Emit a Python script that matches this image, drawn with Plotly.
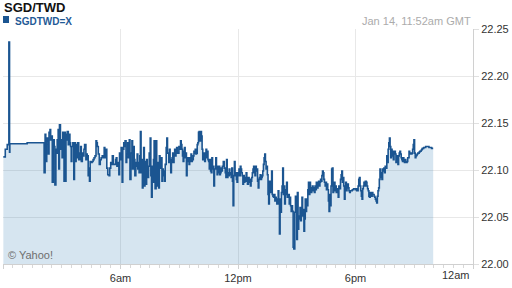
import plotly.graph_objects as go

# ---- data: minutes after midnight (GMT) and SGD/TWD rate ----
t_a = [1, 7, 13, 17, 18, 20, 21, 73, 74, 124]
r_a = [22.114, 22.122, 22.127, 22.127, 22.236, 22.119, 22.128, 22.128, 22.129, 22.129]

t_b = [126, 129, 131, 134, 137, 139, 141, 144, 146, 149, 151, 154, 157, 159, 162, 164, 166, 169, 171, 173,
       176, 178, 181, 183, 185, 187, 189, 191, 193, 195, 197, 200, 202, 205, 207, 209, 211, 214, 217, 219,
       222, 224, 227, 229, 232, 235, 238, 240, 243, 245, 248, 250, 254, 256, 258, 261, 263, 265, 267, 270,
       273, 276, 279, 282, 285, 287, 289, 292, 295, 298, 301, 304, 307, 310, 312, 315, 318, 321, 325, 327,
       330, 333, 335, 338, 341]
r_b = [22.097, 22.138, 22.109, 22.134, 22.131, 22.117, 22.140, 22.143, 22.132, 22.136, 22.087, 22.132, 22.125, 22.084, 22.122, 22.118, 22.132, 22.143, 22.101, 22.148,
       22.122, 22.132, 22.113, 22.140, 22.131, 22.088, 22.140, 22.088, 22.138, 22.132, 22.141, 22.127, 22.138, 22.129, 22.125, 22.109, 22.125, 22.129, 22.090, 22.129,
       22.109, 22.127, 22.113, 22.129, 22.111, 22.118, 22.125, 22.109, 22.118, 22.115, 22.122, 22.127, 22.111, 22.117, 22.115, 22.094, 22.102, 22.088, 22.109, 22.108,
       22.109, 22.111, 22.113, 22.115, 22.131, 22.129, 22.125, 22.117, 22.106, 22.111, 22.113, 22.115, 22.113, 22.124, 22.113, 22.122, 22.102, 22.095, 22.094, 22.102,
       22.108, 22.106, 22.115, 22.106, 22.106]

t_c = [345, 347, 349, 352, 355, 357, 360, 362, 365, 367, 370, 372, 374, 377, 379, 382, 384, 387, 389, 392,
       395, 397, 400, 402, 404, 407, 409, 411, 413, 415, 417, 419, 421, 423, 425, 427, 429, 431, 433, 435,
       438, 440, 442, 444, 446, 448, 451, 453, 455, 457, 459, 461, 463, 466, 469, 471, 473, 475, 477, 479,
       481, 483, 485, 487, 489, 491, 493, 495, 497, 500, 502, 504, 506, 508, 510, 512, 514, 516, 518, 520,
       522, 524, 526, 528, 530, 532, 534, 537, 539, 541, 544, 546, 548, 550, 552, 554, 556, 558, 560, 562,
       564, 566, 568, 570, 572, 574, 576, 578, 580, 583, 585, 587, 589, 591, 593, 595, 597, 599, 601, 603,
       605, 608, 610, 612, 614, 616, 618, 620, 622, 624, 626, 628, 630, 632, 634, 636, 638, 640, 642, 644,
       646, 648, 650, 652, 654, 656, 658, 660, 662, 664, 666, 668, 670, 672, 675]
r_c = [22.111, 22.113, 22.104, 22.108, 22.095, 22.118, 22.111, 22.124, 22.087, 22.122, 22.129, 22.125, 22.131, 22.108, 22.117, 22.129, 22.113, 22.132, 22.090, 22.118,
       22.131, 22.101, 22.125, 22.111, 22.094, 22.108, 22.104, 22.117, 22.101, 22.108, 22.097, 22.115, 22.141, 22.097, 22.111, 22.081, 22.094, 22.124, 22.083, 22.109,
       22.085, 22.111, 22.095, 22.092, 22.104, 22.118, 22.134, 22.094, 22.071, 22.104, 22.087, 22.111, 22.131, 22.080, 22.131, 22.083, 22.108, 22.094, 22.081, 22.115,
       22.102, 22.104, 22.113, 22.088, 22.101, 22.094, 22.099, 22.088, 22.106, 22.124, 22.134, 22.118, 22.118, 22.108, 22.122, 22.111, 22.097, 22.108, 22.113, 22.118,
       22.108, 22.115, 22.122, 22.115, 22.122, 22.124, 22.118, 22.118, 22.125, 22.122, 22.131, 22.127, 22.122, 22.115, 22.109, 22.120, 22.124, 22.113, 22.118, 22.094,
       22.109, 22.113, 22.109, 22.106, 22.113, 22.109, 22.117, 22.109, 22.111, 22.115, 22.120, 22.118, 22.122, 22.117, 22.118, 22.127, 22.129, 22.140, 22.141, 22.131,
       22.141, 22.136, 22.122, 22.111, 22.117, 22.118, 22.109, 22.118, 22.122, 22.113, 22.120, 22.111, 22.109, 22.101, 22.111, 22.099, 22.097, 22.113, 22.104, 22.101,
       22.083, 22.101, 22.104, 22.113, 22.101, 22.095, 22.104, 22.097, 22.104, 22.095, 22.097, 22.102, 22.099, 22.104, 22.109]

t_d = [678, 681, 683, 685, 687, 689, 691, 693, 695, 697, 699, 701, 703, 705, 707, 709, 711, 713, 715, 717,
       719, 721, 723, 725, 727, 729, 731, 733, 735, 737, 739, 741, 743, 745, 747, 749, 752, 754, 756, 758,
       760, 762, 764, 766, 768, 770, 772, 774, 776, 778, 780, 782, 784, 786, 788, 790, 792, 794, 796, 798,
       800, 802, 804, 806, 808, 810, 812, 814, 816, 818, 820, 823, 825, 827, 829, 831, 833, 835, 837, 839,
       841, 843, 845, 847, 849, 851, 853, 855, 857, 859, 861, 863, 865, 867, 869, 871, 873, 875, 877, 879,
       881, 883, 885, 887, 889, 891, 894, 896, 898, 900, 902, 904, 906, 908, 910, 912, 914, 916, 918, 920,
       922, 924, 926, 928, 930, 932, 934, 936, 938, 940, 942, 944, 946, 948, 950, 952, 954, 956, 958, 960,
       963, 965, 967, 969, 971, 973, 975, 977, 979, 981, 983, 985, 987, 989, 991, 993, 995, 997, 999, 1001,
       1003, 1005, 1007, 1009]
r_d = [22.102, 22.097, 22.092, 22.111, 22.092, 22.097, 22.094, 22.101, 22.095, 22.097, 22.092, 22.102, 22.088, 22.062, 22.094, 22.109, 22.094, 22.097, 22.090, 22.087,
       22.097, 22.094, 22.101, 22.094, 22.104, 22.101, 22.097, 22.094, 22.085, 22.094, 22.087, 22.092, 22.088, 22.097, 22.090, 22.085, 22.092, 22.087, 22.090, 22.083,
       22.088, 22.092, 22.097, 22.101, 22.104, 22.097, 22.094, 22.104, 22.099, 22.101, 22.088, 22.081, 22.090, 22.092, 22.095, 22.090, 22.092, 22.094, 22.099, 22.106,
       22.113, 22.117, 22.109, 22.101, 22.104, 22.095, 22.074, 22.064, 22.088, 22.088, 22.076, 22.099, 22.074, 22.072, 22.071, 22.074, 22.067, 22.071, 22.069, 22.064,
       22.069, 22.078, 22.064, 22.032, 22.069, 22.055, 22.076, 22.083, 22.102, 22.074, 22.083, 22.064, 22.079, 22.074, 22.087, 22.071, 22.071, 22.074, 22.064, 22.071,
       22.062, 22.056, 22.062, 22.056, 22.018, 22.016, 22.055, 22.072, 22.058, 22.026, 22.076, 22.037, 22.051, 22.048, 22.060, 22.046, 22.053, 22.071, 22.051, 22.058,
       22.035, 22.048, 22.069, 22.056, 22.069, 22.062, 22.079, 22.087, 22.074, 22.087, 22.081, 22.076, 22.079, 22.083, 22.078, 22.081, 22.076, 22.083, 22.079, 22.087,
       22.081, 22.085, 22.088, 22.083, 22.087, 22.090, 22.088, 22.094, 22.099, 22.097, 22.090, 22.087, 22.083, 22.087, 22.079, 22.085, 22.079, 22.067, 22.056, 22.074,
       22.062, 22.083, 22.101, 22.102]

t_e = [1011, 1013, 1015, 1017, 1019, 1021, 1023, 1025, 1027, 1029, 1031, 1034, 1036, 1038, 1040, 1042, 1044, 1046, 1048, 1050,
       1052, 1054, 1056, 1058, 1060, 1062, 1064, 1066, 1068, 1070, 1072, 1074, 1076, 1078, 1080, 1082, 1084, 1086, 1088, 1090,
       1092, 1094, 1096, 1098, 1100, 1102, 1104, 1106, 1108, 1110, 1113, 1115, 1117, 1119, 1121, 1123, 1125, 1127, 1129, 1131,
       1133, 1135, 1137, 1139, 1141, 1143, 1145, 1147, 1149, 1151, 1153, 1155, 1157, 1159, 1161, 1163, 1165, 1167, 1169, 1171,
       1173, 1176, 1178, 1180, 1182, 1184, 1186, 1188, 1190, 1192, 1194, 1196, 1198, 1200, 1202, 1204, 1206, 1208, 1210, 1212,
       1214, 1216, 1218, 1220, 1222, 1224, 1226, 1228, 1230, 1232, 1234, 1236, 1238, 1240, 1242, 1244, 1246, 1248, 1250, 1253,
       1255, 1257, 1259, 1261, 1263, 1265, 1267, 1269, 1271, 1273, 1275, 1277, 1279, 1281, 1283, 1285, 1287, 1289, 1291, 1293,
       1295, 1297, 1299, 1301, 1303, 1305, 1307, 1309, 1311, 1313, 1316, 1318]
r_e = [22.076, 22.080, 22.087, 22.078, 22.083, 22.076, 22.080, 22.078, 22.071, 22.083, 22.080, 22.090, 22.095, 22.099, 22.087, 22.092, 22.083, 22.069, 22.080, 22.087,
       22.078, 22.083, 22.085, 22.081, 22.078, 22.076, 22.078, 22.078, 22.078, 22.079, 22.079, 22.080, 22.080, 22.080, 22.079, 22.080, 22.078, 22.078, 22.083, 22.090,
       22.092, 22.083, 22.078, 22.072, 22.069, 22.080, 22.083, 22.087, 22.083, 22.088, 22.087, 22.083, 22.080, 22.078, 22.072, 22.071, 22.076, 22.074, 22.072, 22.076,
       22.074, 22.074, 22.072, 22.071, 22.069, 22.067, 22.065, 22.072, 22.078, 22.081, 22.090, 22.101, 22.092, 22.097, 22.090, 22.101, 22.099, 22.102, 22.097, 22.104,
       22.102, 22.115, 22.108, 22.122, 22.129, 22.134, 22.125, 22.113, 22.122, 22.115, 22.120, 22.111, 22.118, 22.120, 22.117, 22.108, 22.115, 22.111, 22.106, 22.115,
       22.118, 22.120, 22.117, 22.113, 22.111, 22.109, 22.113, 22.111, 22.108, 22.111, 22.109, 22.108, 22.109, 22.113, 22.113, 22.120, 22.117, 22.118, 22.117, 22.118,
       22.122, 22.127, 22.132, 22.118, 22.113, 22.115, 22.116, 22.117, 22.118, 22.118, 22.119, 22.120, 22.120, 22.121, 22.122, 22.123, 22.123, 22.124, 22.124, 22.124,
       22.125, 22.125, 22.125, 22.125, 22.125, 22.124, 22.124, 22.124, 22.124, 22.123, 22.123, 22.123]

minutes = t_a + t_b + t_c + t_d + t_e
rates = r_a + r_b + r_c + r_d + r_e
for a, b in [(t_a, r_a), (t_b, r_b), (t_c, r_c), (t_d, r_d), (t_e, r_e)]:
    if len(a) != len(b):
        print("length mismatch", len(a), len(b))

x_tickvals = [0, 360, 720, 1080, 1440]
x_ticktext = ["", "6am", "12pm", "6pm", ""]
y_tickvals = [22.00, 22.05, 22.10, 22.15, 22.20, 22.25]
y_ticktext = ["22.00", "22.05", "22.10", "22.15", "22.20", "22.25"]

title_text = "SGD/TWD"
series_name = "SGDTWD=X"
stamp_text = "Jan 14, 11:52am GMT"
credit_text = "© Yahoo!"

LINE = "#1b5591"
FONT = "Liberation Sans, Arial, sans-serif"

fig = go.Figure()
fig.add_trace(go.Scatter(
    x=minutes, y=rates, mode="lines", name=series_name,
    line=dict(color=LINE, width=1.6, shape="hv"),
    fill="tozeroy", fillcolor="rgba(30,110,170,0.18)",
    hoverinfo="skip", showlegend=False,
))

fig.update_layout(
    width=512, height=288,
    margin=dict(l=3, r=36, t=29, b=24, pad=0),
    paper_bgcolor="white", plot_bgcolor="white",
    font=dict(family=FONT, size=11, color="#333333"),
    showlegend=False,
    xaxis=dict(
        range=[0, 1440], tickmode="array", tickvals=x_tickvals, ticktext=x_ticktext,
        showgrid=True, gridcolor="#e8e8e8", gridwidth=1,
        showline=True, linecolor="#d0d0d0", linewidth=1,
        ticks="outside", ticklen=4, tickcolor="#d0d0d0",
        tickfont=dict(family=FONT, size=11, color="#333333"),
        minor=dict(tickmode="linear", tick0=0, dtick=30, ticks="outside", ticklen=3,
                   tickcolor="#d8d8d8", showgrid=False),
        zeroline=False, fixedrange=True,
    ),
    yaxis=dict(
        range=[22.0, 22.25], side="right", tickmode="array",
        tickvals=y_tickvals, ticktext=y_ticktext,
        showgrid=True, gridcolor="#e8e8e8", gridwidth=1,
        showline=True, linecolor="#d0d0d0", linewidth=1,
        ticks="outside", ticklen=5, tickcolor="#e0e0e0",
        tickfont=dict(family=FONT, size=11, color="#333333"),
        zeroline=False, fixedrange=True,
    ),
)

fig.add_annotation(text="<b>" + title_text + "</b>", xref="paper", yref="paper",
                   x=0, y=1, xanchor="left", yanchor="middle", xshift=-1, yshift=21.5,
                   showarrow=False, font=dict(family=FONT, size=13, color="#111111"))
fig.add_shape(type="rect", xref="paper", yref="paper", xsizemode="pixel", ysizemode="pixel",
              xanchor=0, yanchor=1, x0=0, x1=6, y0=6, y1=13,
              fillcolor=LINE, line=dict(width=0))
fig.add_annotation(text="<b>" + series_name + "</b>", xref="paper", yref="paper",
                   x=0, y=1, xanchor="left", yanchor="middle", xshift=10, yshift=8,
                   showarrow=False, font=dict(family=FONT, size=10, color="#1f5a96"))
fig.add_annotation(text=stamp_text, xref="paper", yref="paper",
                   x=1, y=1, xanchor="right", yanchor="middle", xshift=0, yshift=8,
                   showarrow=False, font=dict(family=FONT, size=11, color="#ababab"))
fig.add_annotation(text=credit_text, xref="paper", yref="paper",
                   x=0, y=0, xanchor="left", yanchor="middle", xshift=3, yshift=9,
                   showarrow=False, font=dict(family=FONT, size=11, color="#6e6e6e"))
fig.add_annotation(text="12am", xref="x", yref="paper",
                   x=1440, y=0, xanchor="right", yanchor="middle", xshift=-1, yshift=-11,
                   showarrow=False, font=dict(family=FONT, size=11, color="#333333"))

fig.write_html("out.html", config={"displayModeBar": False})
